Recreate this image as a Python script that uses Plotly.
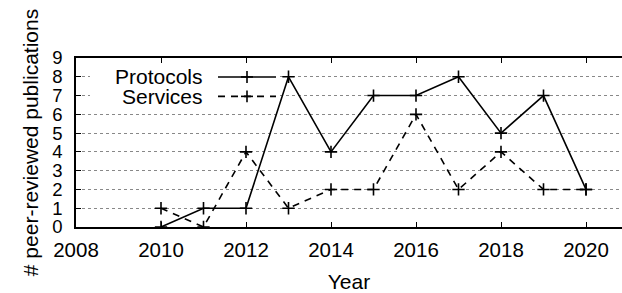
import plotly.graph_objects as go

years = [2010, 2011, 2012, 2013, 2014, 2015, 2016, 2017, 2018, 2019, 2020]
protocols = [0, 1, 1, 8, 4, 7, 7, 8, 5, 7, 2]
services = [1, 0, 4, 1, 2, 2, 6, 2, 4, 2, 2]
x_ticks = [2008, 2010, 2012, 2014, 2016, 2018, 2020]
y_ticks = list(range(0, 10))
series_names = ["Protocols", "Services"]

W, H = 622, 293
L, R, T, B = 76, 0, 57.5, 66
PW, PH = W - L - R, H - T - B


def px(x):
    return (x - L) / PW


def py(y):
    return (H - B - y) / PH


FONT = "Liberation Sans, Arial, Helvetica, sans-serif"

fig = go.Figure()
marker = dict(symbol="cross-thin", size=8.8, line=dict(width=1.6, color="black"), color="black")
fig.add_trace(go.Scatter(x=years, y=protocols, mode="lines+markers", name=series_names[0],
                         line=dict(color="black", width=1.6), marker=marker))
fig.add_trace(go.Scatter(x=years, y=services, mode="lines+markers", name=series_names[1],
                         line=dict(color="black", width=1.6, dash="7px,6px"), marker=marker))

shapes = []
# legend background box
shapes.append(dict(type="rect", xref="paper", yref="paper", x0=px(90), x1=px(278), y0=py(105), y1=py(67),
                   fillcolor="white", line=dict(width=0), layer="above"))
annotations = []
for i, (name, dash) in enumerate(zip(series_names, ["solid", "7px,6px"])):
    yy = 76.5 + 19.5 * i
    annotations.append(dict(xref="paper", yref="paper", x=px(205), y=py(yy), text=name, showarrow=False,
                            xanchor="right", yanchor="middle", font=dict(size=21, family=FONT, color="black")))
    shapes.append(dict(type="line", xref="paper", yref="paper", x0=px(218), x1=px(276), y0=py(yy), y1=py(yy),
                       line=dict(color="black", width=1.6, dash=dash), layer="above"))
    shapes.append(dict(type="line", xref="paper", yref="paper", x0=px(241), x1=px(253), y0=py(yy), y1=py(yy),
                       line=dict(color="black", width=1.6), layer="above"))
    shapes.append(dict(type="line", xref="paper", yref="paper", x0=px(247), x1=px(247), y0=py(yy - 6), y1=py(yy + 6),
                       line=dict(color="black", width=1.6), layer="above"))

fig.update_layout(
    width=W, height=H,
    margin=dict(l=L, r=R, t=T, b=B),
    paper_bgcolor="white", plot_bgcolor="white",
    showlegend=False,
    font=dict(family=FONT, size=20, color="black"),
    shapes=shapes, annotations=annotations,
)
fig.update_xaxes(
    range=[2008, 2008 + PW / 42.5], tickvals=x_ticks, ticktext=[str(v) for v in x_ticks],
    ticks="inside", ticklen=5, tickwidth=1.2, tickcolor="black",
    showline=True, linecolor="black", linewidth=1.5, mirror="ticks",
    showgrid=False, zeroline=False,
    tickfont=dict(size=20.5, color="black"), ticklabelstandoff=4,
    title=dict(text="Year", font=dict(size=21, color="black"), standoff=15),
)
fig.update_yaxes(
    range=[0, 9], tickvals=y_ticks, ticktext=[str(v) for v in y_ticks],
    ticks="inside", ticklen=5, tickwidth=1.2, tickcolor="black",
    showline=True, linecolor="black", linewidth=1.5, mirror=False,
    showgrid=True, gridcolor="#888888", gridwidth=1, griddash="dot",
    zeroline=False,
    tickfont=dict(size=18.5, color="black"), ticklabelstandoff=8,
    title=dict(text="# peer-reviewed publications", font=dict(size=21, color="black"), standoff=8),
)

fig.write_html("out.html", config={"displayModeBar": False},
               post_script="document.body.style.margin='0px';")
